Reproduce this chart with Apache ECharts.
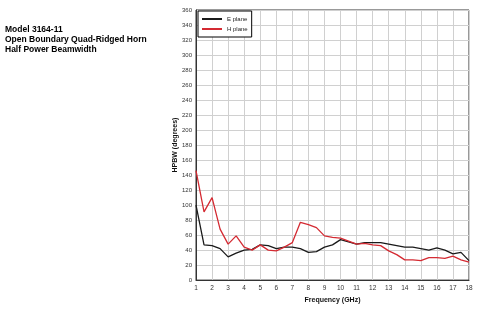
<!DOCTYPE html>
<html><head><meta charset="utf-8">
<script src="https://cdn.jsdelivr.net/npm/echarts@6/dist/echarts.min.js"></script>
<style>html,body{margin:0;padding:0;background:#fff}#c{width:490px;height:309px}</style>
</head><body><div id="c"></div>
<script>
var freq = [1,1.5,2,2.5,3,3.5,4,4.5,5,5.5,6,6.5,7,7.5,8,8.5,9,9.5,10,10.5,11,11.5,12,12.5,13,13.5,14,14.5,15,15.5,16,16.5,17,17.5,18];
var ePlane = [100,47,46,42,31,36,40,41,47,46,42,44,44,42,37,38,44,47,54,51,48,50,50,50,48,46,44,44,42,40,43,40,35,37,26];
var hPlane = [146,91,110,68,48,59,44,40,47,40,39,44,50,77,74,70,59,57,56,52,48,49,47,46,39,34,27,27,26,30,30,29,32,27,24];
var titleLines = ['Model 3164-11','Open Boundary Quad-Ridged Horn','Half Power Beamwidth'];
var xName = 'Frequency (GHz)';
var yName = 'HPBW (degrees)';
var seriesNames = ['E plane','H plane'];

function pairs(v){ return freq.map(function(f,i){ return [f, v[i]]; }); }
var chart = echarts.init(document.getElementById('c'));
var font = 'Liberation Sans, Arial, sans-serif';
chart.setOption({
  animation:false,
  textStyle:{fontFamily:font},
  title:{text:titleLines.join('\n'), left:0, top:20, textStyle:{fontSize:8.5, fontWeight:'bold', color:'#000', lineHeight:10, fontFamily:font}},
  grid:{left:196, right:21, top:10, bottom:27, show:true, borderColor:'#333', borderWidth:1},
  legend:{
    orient:'vertical', left:198, top:11, itemWidth:20, itemHeight:2, itemGap:4,
    backgroundColor:'#fff', borderColor:'#000', borderWidth:1, padding:[5,4,5,4],
    textStyle:{fontSize:6, color:'#222'}, icon:'rect',
    data:seriesNames
  },
  xAxis:{type:'value', min:1, max:18, interval:1, name:xName, nameLocation:'middle', nameGap:15,
    nameTextStyle:{fontSize:7, fontWeight:'bold', color:'#111'},
    axisLine:{lineStyle:{color:'#333'}}, axisTick:{show:false},
    axisLabel:{fontSize:6.5, color:'#333', margin:5},
    splitLine:{lineStyle:{color:'#d0d0d0', width:1}}},
  yAxis:{type:'value', min:0, max:360, interval:20, name:yName, nameLocation:'middle', nameGap:17, nameMoveOverlap:false,
    nameTextStyle:{fontSize:7, fontWeight:'bold', color:'#111'},
    axisLine:{show:true, lineStyle:{color:'#333'}}, axisTick:{show:false},
    axisLabel:{fontSize:6, color:'#333', margin:4},
    splitLine:{lineStyle:{color:'#d0d0d0', width:1}}},
  series:[
    {name:seriesNames[0], type:'line', data:pairs(ePlane), showSymbol:false, symbol:'none', itemStyle:{color:'#1a1a1a'}, lineStyle:{color:'#1a1a1a', width:1.3}},
    {name:seriesNames[1], type:'line', data:pairs(hPlane), showSymbol:false, symbol:'none', itemStyle:{color:'#d42a32'}, lineStyle:{color:'#d42a32', width:1.3}}
  ]
});
</script></body></html>
